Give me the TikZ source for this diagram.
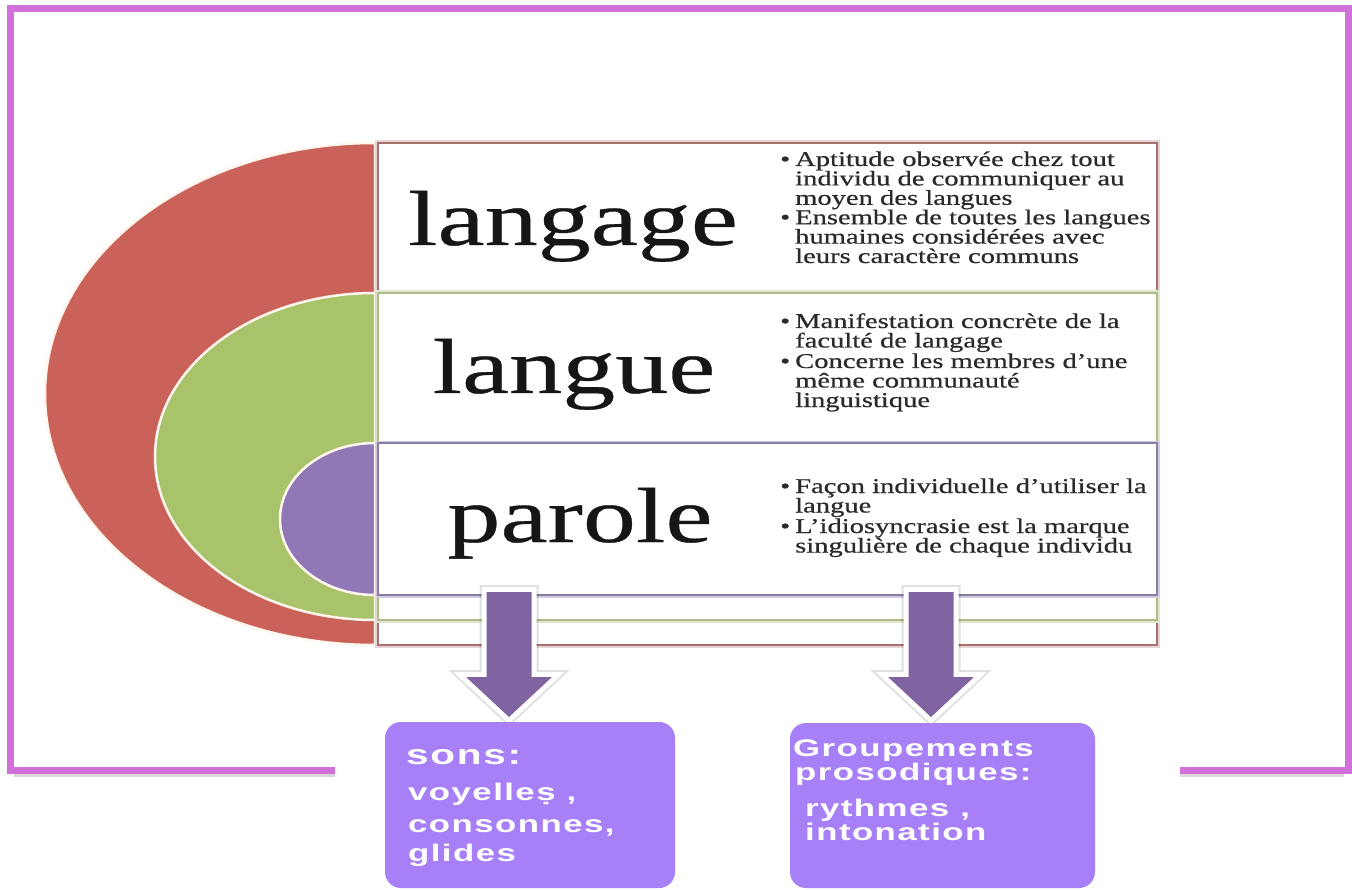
\documentclass[tikz,border=0pt]{standalone}
\usepackage{fontspec}
\setmainfont{Liberation Serif}
\newfontfamily\bigserif[FakeStretch=1.36,FakeBold=0.4]{Liberation Serif}
\newfontfamily\bulserif[FakeStretch=1.36,FakeBold=0.6]{Liberation Serif}
\newfontfamily\boxsans[FakeStretch=1.45,LetterSpace=6]{Liberation Sans}
\definecolor{frameP}{HTML}{D070D8}
\definecolor{redE}{HTML}{CB6259}
\definecolor{greenE}{HTML}{A9C36B}
\definecolor{purpE}{HTML}{8F78B5}
\definecolor{redB}{HTML}{A8706E}
\definecolor{greenB}{HTML}{AEBB86}
\definecolor{purpB}{HTML}{8C7DA6}
\definecolor{arrowP}{HTML}{8064A2}
\definecolor{boxP}{HTML}{A77FF6}
\definecolor{inkT}{HTML}{161616}
\definecolor{bulT}{HTML}{2A2A2A}
\definecolor{outlineC}{HTML}{FFF6EE}
\tikzset{
  frameline/.style={draw=frameP, line width=7pt, line join=miter, line cap=butt},
  halfell/.style={draw=outlineC, line width=2.5pt},
  rowbox/.style={line width=2.5pt, fill=white},
  bigword/.style={anchor=base, inner sep=0pt, text=inkT, font=\bigserif\fontsize{78}{80}\selectfont},
  bul/.style={anchor=base west, inner sep=0pt, text=bulT, font=\bulserif\fontsize{21}{22}\selectfont},
  arrowshadow/.style={draw=black, opacity=0.12, line width=14pt, line join=miter},
  arrowedge/.style={draw=white, fill=white, line width=10pt, line join=miter},
  arrowfill/.style={fill=arrowP},
  sbox/.style={fill=boxP, rounded corners=16pt, inner sep=0pt},
  boxtxt/.style={anchor=base west, inner sep=0pt, text=white, font=\boxsans\bfseries\fontsize{24}{25}\selectfont},
}
\newcommand\blockarrowpath[1]{(#1-22.5,592) -- (#1+22.5,592) -- (#1+22.5,677) -- (#1+43,677) -- (#1,717) -- (#1-43,677) -- (#1-22.5,677) -- cycle}
\begin{document}
\begin{tikzpicture}[x=1pt,y=1pt,yscale=-1]
\useasboundingbox (0,0) rectangle (1352,890);
\fill[white] (0,0) rectangle (1352,890);

% outer frame
\draw[black!25, line width=3pt, opacity=0.6] (14,775.5) -- (335,775.5);
\draw[black!25, line width=3pt, opacity=0.6] (1180,775.5) -- (1344,775.5);
\draw[frameline] (335,770) -- (10,770) -- (10,9) -- (1348,9) -- (1348,770) -- (1180,770);

% half ellipses
\filldraw[fill=redE, halfell] (375,645) arc[start angle=90, end angle=270, x radius=330, y radius=251] -- cycle;
\filldraw[fill=greenE, halfell] (375,620) arc[start angle=90, end angle=270, x radius=220, y radius=163.5] -- cycle;
\filldraw[fill=purpE, halfell] (375,595) arc[start angle=90, end angle=270, x radius=95, y radius=76] -- cycle;

% nested row boxes
\draw[redB!30, line width=6pt] (378,143) rectangle (1157,645);
\draw[rowbox, draw=redB] (378,143) rectangle (1157,645);
\draw[greenB!40, line width=5pt] (378,293) rectangle (1157,620);
\draw[rowbox, draw=greenB] (378,293) rectangle (1157,620);
\draw[purpB!40, line width=5pt] (378,443) rectangle (1157,595);
\draw[rowbox, draw=purpB] (378,443) rectangle (1157,595);

% big words
\node[bigword] (wLangage) at (573,245) {langage};
\node[bigword] (wLangue) at (574,393) {langue};
\node[bigword] (wParole) at (580,542) {parole};

% bullets row 1
\node[bul] (b1a) at (780,166) {•};
\node[bul] (b1b) at (780,224.2) {•};
\foreach \yy/\tt [count=\i] in {166/{Aptitude observée chez tout},185.4/{individu de communiquer au},204.8/{moyen des langues},224.2/{Ensemble de toutes les langues},243.6/{humaines considérées avec},263/{leurs caractère communs}}
  \node[bul] (r1l\i) at (795,\yy) {\tt};
% bullets row 2
\node[bul] (b2a) at (780,328) {•};
\node[bul] (b2b) at (780,368) {•};
\foreach \yy/\tt [count=\i] in {328/{Manifestation concrète de la},347.5/{faculté de langage},368/{Concerne les membres d’une},387.5/{même communauté},407/{linguistique}}
  \node[bul] (r2l\i) at (795,\yy) {\tt};
% bullets row 3
\node[bul] (b3a) at (780,493) {•};
\node[bul] (b3b) at (780,533) {•};
\foreach \yy/\tt [count=\i] in {493/{Façon individuelle d’utiliser la},512.5/{langue},533/{L’idiosyncrasie est la marque},552.5/{singulière de chaque individu}}
  \node[bul] (r3l\i) at (795,\yy) {\tt};

% block arrows
\path[arrowshadow] \blockarrowpath{509};
\path[arrowedge] \blockarrowpath{509};
\path[arrowfill] \blockarrowpath{509};
\path[arrowshadow] \blockarrowpath{931};
\path[arrowedge] \blockarrowpath{931};
\path[arrowfill] \blockarrowpath{931};

% bottom boxes
\node[sbox, minimum width=290pt, minimum height=166pt] (boxL) at (530,805) {};
\node[sbox, minimum width=305pt, minimum height=165pt] (boxR) at (942.5,805.5) {};

\node[boxtxt, font=\boxsans\bfseries\fontsize{28}{30}\selectfont] (tSons) at (406,764) {sons:};
\node[boxtxt] (tVoy) at (408,800) {voyelle\d{s} ,};
\node[boxtxt] (tCons) at (408,832) {consonnes,};
\node[boxtxt] (tGli) at (408,861) {glides};

\node[boxtxt] (tGrp) at (793,756) {Groupements};
\node[boxtxt] (tPro) at (795,780) {prosodiques:};
\node[boxtxt] (tRyt) at (805,816) {rythmes ,};
\node[boxtxt] (tInt) at (805,840) {intonation};
\end{tikzpicture}
\end{document}
